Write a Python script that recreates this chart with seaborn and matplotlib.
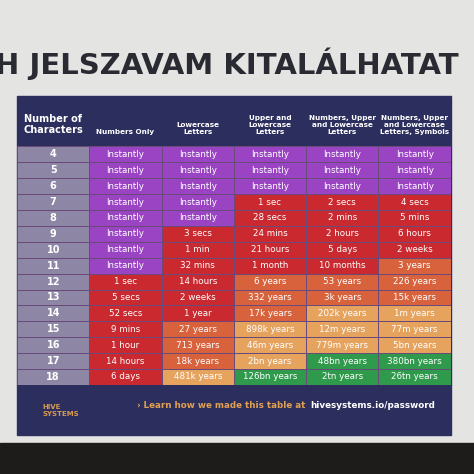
import numpy as np
import pandas as pd
import matplotlib.pyplot as plt
import seaborn as sns
from matplotlib.colors import ListedColormap
from matplotlib.patches import Rectangle

columns = ["Number of\nCharacters", "Numbers Only", "Lowercase\nLetters", "Upper and\nLowercase\nLetters",
           "Numbers, Upper\nand Lowercase\nLetters", "Numbers, Upper\nand Lowercase\nLetters, Symbols"]
lengths = list(range(4, 19))

numbers_only = ["Instantly"] * 8 + ["1 sec", "5 secs", "52 secs", "9 mins", "1 hour", "14 hours", "6 days"]
lowercase = ["Instantly"] * 5 + ["3 secs", "1 min", "32 mins", "14 hours", "2 weeks", "1 year", "27 years",
                                 "713 years", "18k years", "481k years"]
upper_lower = ["Instantly"] * 3 + ["1 sec", "28 secs", "24 mins", "21 hours", "1 month", "6 years", "332 years",
                                   "17k years", "898k years", "46m years", "2bn years", "126bn years"]
num_upper_lower = ["Instantly"] * 3 + ["2 secs", "2 mins", "2 hours", "5 days", "10 months", "53 years",
                                       "3k years", "202k years", "12m years", "779m years", "48bn years", "2tn years"]
all_chars = ["Instantly"] * 3 + ["4 secs", "5 mins", "6 hours", "2 weeks", "3 years", "226 years", "15k years",
                                 "1m years", "77m years", "5bn years", "380bn years", "26tn years"]

# strength level of each cell: 0 purple, 1 red, 2 dark orange, 3 light orange, 4 green, 5 row label
lvl_numbers = [0] * 8 + [1] * 7
lvl_lower = [0] * 5 + [1] * 6 + [2] * 3 + [3]
lvl_upper = [0] * 3 + [1] * 5 + [2] * 3 + [3] * 3 + [4]
lvl_nul = [0] * 3 + [1] * 5 + [2] * 2 + [3] * 3 + [4] * 2
lvl_all = [0] * 3 + [1] * 4 + [2] * 3 + [3] * 3 + [4] * 2

levels = pd.DataFrame({"n": [5] * len(lengths), "a": lvl_numbers, "b": lvl_lower, "c": lvl_upper,
                       "d": lvl_nul, "e": lvl_all})
labels = pd.DataFrame({"n": [str(x) for x in lengths], "a": numbers_only, "b": lowercase, "c": upper_lower,
                       "d": num_upper_lower, "e": all_chars})

cmap = ListedColormap(["#9a44c4", "#c9292f", "#d8623c", "#e6a35e", "#2f9a4c", "#8d86a5"])
navy = "#2c2f5e"

fig = plt.figure(figsize=(4.74, 4.74), dpi=100)
fig.patch.set_facecolor("#e4e4e2")
bg = fig.add_axes([0, 0, 1, 1], zorder=0)
bg.set_xlim(0, 1)
bg.set_ylim(0, 1)
bg.axis("off")
bg.add_patch(Rectangle((0, 0), 1, 0.065, color="#1e1c1a"))
bg.add_patch(Rectangle((0.036, 0.082), 0.915, 0.715, color=navy))
bg.text(-0.01, 0.865, "H JELSZAVAM KITALÁLHATAT", fontsize=21, fontweight="bold", color="#2a2a33",
        va="center", clip_on=False)
bg.text(0.09, 0.135, "HIVE\nSYSTEMS", fontsize=5, color="#d89a4f", fontweight="bold", va="center")
bg.text(0.29, 0.145, "› Learn how we made this table at ", fontsize=6.3, color="#e0a050",
        fontweight="bold", va="center")
bg.text(0.655, 0.145, "hivesystems.io/password", fontsize=6.3, color="white", fontweight="bold", va="center")

ax = fig.add_axes([0.036, 0.188, 0.915, 0.503], zorder=1)
sns.heatmap(levels, ax=ax, cmap=cmap, vmin=-0.5, vmax=5.5, cbar=False, annot=labels, fmt="",
            annot_kws={"fontsize": 6.3, "color": "white"}, linewidths=0.6, linecolor="#6a4a7a")
for t in ax.texts[::6]:
    t.set_fontweight("bold")
    t.set_fontsize(7)
ax.xaxis.tick_top()
ax.set_xticklabels(columns, rotation=0, fontsize=5.2, color="white", fontweight="bold")
ax.get_xticklabels()[0].set_fontsize(7)
ax.tick_params(length=0, pad=8)
ax.set_yticks([])
ax.set_xlabel("")
ax.set_ylabel("")

plt.savefig("out.png", dpi=100, facecolor=fig.get_facecolor())
